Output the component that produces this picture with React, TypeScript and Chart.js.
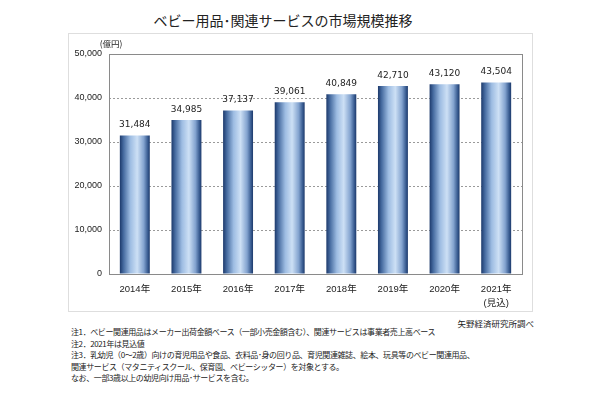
import React, { useEffect, useRef } from "react";
import { Chart, registerables } from "chart.js";

Chart.register(...registerables);

const categories = ["2014年", "2015年", "2016年", "2017年", "2018年", "2019年", "2020年", "2021年"];
const subLabels = ["", "", "", "", "", "", "", "(見込)"];
const values = [31484, 34985, 37137, 39061, 40849, 42710, 43120, 43504];
const yMax = 50000;
const yStep = 10000;

const titleText = "ベビー用品･関連サービスの市場規模推移";
const unitText = "(億円)";
const sourceText = "矢野経済研究所調べ";
const notes = [
  "注1．ベビー関連用品はメーカー出荷金額ベース（一部小売金額含む）、関連サービスは事業者売上高ベース",
  "注2．2021年は見込値",
  "注3．乳幼児（0～2歳）向けの育児用品や食品、衣料品･身の回り品、育児関連雑誌、絵本、玩具等のベビー関連用品、",
  "関連サービス（マタニティスクール、保育園、ベビーシッター）を対象とする。",
  "なお、一部3歳以上の幼児向け用品･サービスを含む。",
];

const FONT = '"Liberation Sans", "Noto Sans CJK JP", sans-serif';
const LABEL_FONT = '"DejaVu Sans", sans-serif';
const JFONT = '"Noto Sans CJK JP", sans-serif';

const fmt = (v: number) => v.toLocaleString("en-US");

const frameAndLabels = {
  id: "frameAndLabels",
  beforeDatasetsDraw(chart: any) {
    const { ctx, chartArea } = chart;
    ctx.save();
    ctx.strokeStyle = "#8a8a8a";
    ctx.lineWidth = 1;
    ctx.strokeRect(
      Math.round(chartArea.left) + 0.5,
      Math.round(chartArea.top) + 0.5,
      Math.round(chartArea.right - chartArea.left),
      Math.round(chartArea.bottom - chartArea.top)
    );
    ctx.restore();
  },
  afterDatasetsDraw(chart: any) {
    const { ctx } = chart;
    const meta = chart.getDatasetMeta(0);
    ctx.save();
    ctx.font = `9px ${LABEL_FONT}`;
    ctx.fillStyle = "#222";
    ctx.textAlign = "center";
    ctx.textBaseline = "bottom";
    meta.data.forEach((bar: any, i: number) => {
      ctx.fillText(fmt(values[i]), bar.x, bar.y - 6);
    });
    ctx.restore();
  },
};

function ChartBox() {
  const ref = useRef<HTMLCanvasElement | null>(null);
  useEffect(() => {
    if (!ref.current) return;
    const labels = categories.map((c, i) => (subLabels[i] ? [c, subLabels[i]] : c));
    const chart = new Chart(ref.current, {
      type: "bar",
      data: {
        labels,
        datasets: [
          {
            data: values,
            barPercentage: 0.58,
            categoryPercentage: 1,
            borderWidth: 0,
            backgroundColor: (c: any) => {
              const ch = c.chart;
              const xs = ch.scales && ch.scales.x;
              if (!xs || c.type !== "data" || !xs.width) return "#7f9fc9";
              const cx = xs.getPixelForValue(c.dataIndex);
              const w = (xs.width / categories.length) * 0.58;
              const g = ch.ctx.createLinearGradient(cx - w / 2, 0, cx + w / 2, 0);
              g.addColorStop(0, "#1c396b");
              g.addColorStop(0.12, "#456a9f");
              g.addColorStop(0.35, "#9dbce2");
              g.addColorStop(0.58, "#cde0f5");
              g.addColorStop(0.8, "#83a3cf");
              g.addColorStop(0.93, "#3a5d92");
              g.addColorStop(1, "#1c396b");
              return g;
            },
          },
        ],
      },
      options: {
        responsive: false,
        animation: false,
        events: [],
        layout: { padding: { left: 0, top: 21, right: 11, bottom: 0 } },
        plugins: { legend: { display: false }, tooltip: { enabled: false }, title: { display: false } },
        scales: {
          x: {
            grid: { display: false, drawTicks: false },
            border: { display: false },
            ticks: {
              padding: 8,
              color: "#222",
              font: { family: FONT, size: 9.5, lineHeight: 14 / 9.5 },
              maxRotation: 0,
              autoSkip: false,
            },
            afterFit: (s: any) => {
              s.height = 38;
            },
          },
          y: {
            min: 0,
            max: yMax,
            grid: { color: "#9a9a9a", drawTicks: false, lineWidth: 1 },
            border: { display: false, dash: [2, 2] },
            ticks: {
              stepSize: yStep,
              padding: 7,
              color: "#222",
              font: { family: FONT, size: 9 },
              callback: (v: any) => fmt(Number(v)),
            },
            afterFit: (s: any) => {
              s.width = 41;
            },
          },
        },
      },
      plugins: [frameAndLabels],
    });
    return () => chart.destroy();
  }, []);
  return (
    <canvas
      ref={ref}
      width={465}
      height={279}
      style={{ position: "absolute", left: 68, top: 33, width: 465, height: 279 }}
    />
  );
}

export default function App() {
  return (
    <div
      style={{
        position: "absolute",
        left: 0,
        top: 0,
        width: 600,
        height: 399,
        background: "#fff",
        overflow: "hidden",
        fontFamily: JFONT,
        color: "#222",
      }}
    >
      <div
        style={{
          position: "absolute",
          left: 0,
          top: 10,
          width: 566,
          textAlign: "center",
          fontSize: 14,
          fontWeight: 400,
          lineHeight: "20px",
          whiteSpace: "nowrap",
        }}
      >
        {titleText}
      </div>
      <div
        style={{
          position: "absolute",
          left: 68,
          top: 33,
          width: 465,
          height: 279,
          boxSizing: "border-box",
          border: "1px solid #dedede",
        }}
      />
      <ChartBox />
      <div
        style={{
          position: "absolute",
          left: 95,
          top: 37,
          width: 32,
          textAlign: "center",
          fontSize: 8.5,
          lineHeight: "12px",
          whiteSpace: "nowrap",
        }}
      >
        {unitText}
      </div>
      <div
        style={{
          position: "absolute",
          right: 600 - 534,
          top: 317,
          fontSize: 8.5,
          lineHeight: "12px",
          whiteSpace: "nowrap",
        }}
      >
        {sourceText}
      </div>
      {notes.map((n, i) => (
        <div
          key={i}
          style={{
            position: "absolute",
            left: 71,
            top: 326 + i * 11.5,
            fontSize: 8,
            letterSpacing: "-0.4px",
            lineHeight: "11px",
            whiteSpace: "nowrap",
          }}
        >
          {n}
        </div>
      ))}
    </div>
  );
}
